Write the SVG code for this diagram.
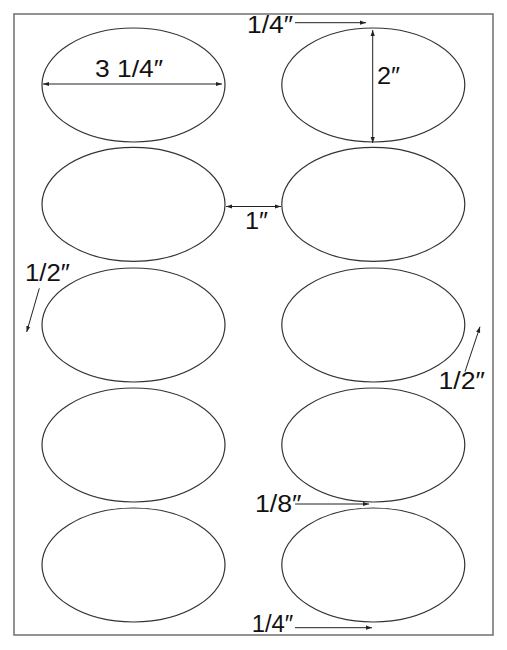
<svg xmlns="http://www.w3.org/2000/svg" width="507" height="650" viewBox="0 0 507 650">
<defs>
<marker id="ah" viewBox="0 0 10 10" refX="10" refY="5" markerWidth="6" markerHeight="6" orient="auto-start-reverse" markerUnits="userSpaceOnUse">
<path d="M0,1.5 L10,5 L0,8.5 Z" fill="#222"/>
</marker>
<style>
.lbl{fill:#fff;stroke:#333;stroke-width:1.2}
.dim{stroke:#222;stroke-width:1;fill:none}
.t{font-family:"Liberation Sans","DejaVu Sans",sans-serif;fill:#111}
</style>
</defs>
<rect width="507" height="650" fill="#fff"/>
<rect x="14" y="14" width="479" height="621" fill="#fff" stroke="#777" stroke-width="1.6"/>
<g id="label-l1"><ellipse class="lbl" cx="133.5" cy="85" rx="91.5" ry="57"/></g>
<g id="label-r1"><ellipse class="lbl" cx="373.3" cy="85" rx="91.5" ry="57"/></g>
<g id="label-l2"><ellipse class="lbl" cx="133.5" cy="204.3" rx="91.5" ry="57"/></g>
<g id="label-r2"><ellipse class="lbl" cx="373.3" cy="204.3" rx="91.5" ry="57"/></g>
<g id="label-l3"><ellipse class="lbl" cx="133.5" cy="325" rx="91.5" ry="57"/></g>
<g id="label-r3"><ellipse class="lbl" cx="373.3" cy="325" rx="91.5" ry="57"/></g>
<g id="label-l4"><ellipse class="lbl" cx="133.5" cy="445" rx="91.5" ry="57"/></g>
<g id="label-r4"><ellipse class="lbl" cx="373.3" cy="445" rx="91.5" ry="57"/></g>
<g id="label-l5"><ellipse class="lbl" cx="133.5" cy="565" rx="91.5" ry="57"/></g>
<g id="label-r5"><ellipse class="lbl" cx="373.3" cy="565" rx="91.5" ry="57"/></g>
<g id="connectors">
<line class="dim" x1="43" y1="84" x2="222" y2="84" marker-start="url(#ah)" marker-end="url(#ah)"/>
<line class="dim" x1="295" y1="22.7" x2="366" y2="22.7" marker-end="url(#ah)"/>
<line class="dim" x1="372.7" y1="30" x2="372.7" y2="143" marker-start="url(#ah)" marker-end="url(#ah)"/>
<line class="dim" x1="226" y1="206.5" x2="281" y2="206.5" marker-start="url(#ah)" marker-end="url(#ah)"/>
<line class="dim" x1="39.3" y1="288.3" x2="26.7" y2="332" marker-end="url(#ah)"/>
<line class="dim" x1="465" y1="371.7" x2="480" y2="326.7" marker-end="url(#ah)"/>
<line class="dim" x1="295" y1="504" x2="369" y2="504" marker-end="url(#ah)"/>
<line class="dim" x1="295" y1="627.7" x2="372" y2="627.7" marker-end="url(#ah)"/>
</g>
<g id="texts">
<text class="t" x="95" y="77" font-size="24" textLength="68" lengthAdjust="spacingAndGlyphs">3 1/4″</text>
<text class="t" x="247" y="33" font-size="23" textLength="46" lengthAdjust="spacingAndGlyphs">1/4″</text>
<text class="t" x="377" y="84" font-size="23" textLength="23" lengthAdjust="spacingAndGlyphs">2″</text>
<text class="t" x="245" y="228.5" font-size="23" textLength="23" lengthAdjust="spacingAndGlyphs">1″</text>
<text class="t" x="25" y="281" font-size="23" textLength="45" lengthAdjust="spacingAndGlyphs">1/2″</text>
<text class="t" x="438.5" y="388.5" font-size="23" textLength="46.5" lengthAdjust="spacingAndGlyphs">1/2″</text>
<text class="t" x="255" y="512" font-size="23" textLength="46.5" lengthAdjust="spacingAndGlyphs">1/8″</text>
<text class="t" x="251.7" y="631.7" font-size="23" textLength="41.6" lengthAdjust="spacingAndGlyphs">1/4″</text>
</g>
</svg>
